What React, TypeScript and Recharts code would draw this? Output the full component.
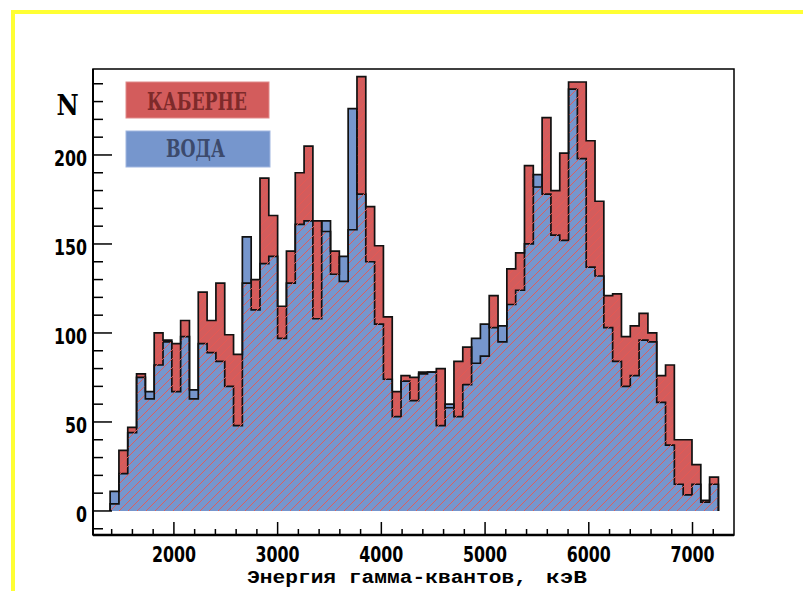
import React from 'react';
import { ComposedChart, Area, XAxis, YAxis, ReferenceArea } from 'recharts';

// Histogram binning (keV)
const BIN_START = 1385;
const BIN_WIDTH = 85;

// Counts per bin
const CABERNET = [
  4, 34, 47, 77, 63, 100, 96, 94, 107, 63,
  123, 107, 128, 99, 88, 128, 130, 187, 166, 115,
  146, 190, 205, 163, 157, 146, 129, 158, 244, 171,
  149, 109, 67, 76, 75, 77, 78, 80, 58, 84,
  92, 83, 87, 121, 95, 136, 145, 194, 182, 221,
  180, 201, 241, 241, 208, 174, 121, 122, 98, 104,
  111, 100, 76, 82, 40, 40, 26, 6, 19,
];
const WATER = [
  11, 21, 44, 75, 67, 82, 95, 67, 98, 68,
  94, 89, 84, 70, 48, 154, 113, 139, 143, 97,
  128, 161, 163, 108, 163, 133, 143, 226, 178, 140,
  105, 74, 53, 73, 62, 78, 78, 48, 60, 53,
  71, 97, 105, 103, 104, 116, 124, 150, 189, 178,
  155, 152, 237, 198, 137, 132, 103, 84, 70, 76,
  96, 95, 61, 37, 15, 9, 15, 5, 15,
];

const X_TICKS = [
  1400, 1600, 1800, 2000, 2200, 2400, 2600, 2800, 3000, 3200,
  3400, 3600, 3800, 4000, 4200, 4400, 4600, 4800, 5000, 5200,
  5400, 5600, 5800, 6000, 6200, 6400, 6600, 6800, 7000, 7200,
];
const X_LABELS = [2000, 3000, 4000, 5000, 6000, 7000];
const Y_TICKS = [
  -10, 0, 10, 20, 30, 40, 50, 60, 70, 80, 90, 100, 110, 120,
  130, 140, 150, 160, 170, 180, 190, 200, 210, 220, 230, 240,
];
const Y_LABELS = [0, 50, 100, 150, 200];
const X_DOMAIN: [number, number] = [1220, 7400];
const Y_DOMAIN: [number, number] = [-13.5, 248.3];

const LEGEND_RED = 'КАБЕРНЕ';
const LEGEND_BLUE = 'ВОДА';
const X_TITLE_1 = 'Энергия гамма-квантов,';
const X_TITLE_2 = 'кэВ';
const Y_TITLE = 'N';

const RED = '#d35c5c';
const BLUE = '#7696cd';
const HATCH = '#e65852';

type Row = { e: number; red: number; blue: number };
const buildData = (): Row[] => {
  const n = CABERNET.length;
  const rows: Row[] = [{ e: BIN_START, red: 0, blue: 0 }];
  for (let i = 0; i < n; i++) {
    rows.push({ e: BIN_START + i * BIN_WIDTH, red: CABERNET[i], blue: WATER[i] });
  }
  rows.push({ e: BIN_START + n * BIN_WIDTH, red: CABERNET[n - 1], blue: WATER[n - 1] });
  rows.push({ e: BIN_START + n * BIN_WIDTH, red: 0, blue: 0 });
  return rows;
};
const data = buildData();

const NUM_FONT = '"Liberation Sans Narrow", "DejaVu Sans Condensed", sans-serif';

const XTick = (props: any) => {
  const { x, y, payload } = props;
  const v = payload.value;
  const major = X_LABELS.includes(v);
  const len = major ? 13 : 6;
  const s = String(v);
  return (
    <g>
      <line x1={x} x2={x} y1={y} y2={y - len} stroke="#000" strokeWidth={1.5} />
      {major && (
        <text
          x={x}
          y={y + 27}
          textAnchor="middle"
          fontFamily={NUM_FONT}
          fontWeight="bold"
          fontSize={21}
          textLength={11 * s.length}
          lengthAdjust="spacingAndGlyphs"
          fill="#000"
        >
          {s}
        </text>
      )}
    </g>
  );
};

const YTick = (props: any) => {
  const { x, y, payload } = props;
  const v = payload.value;
  const major = v % 50 === 0;
  const len = major ? 19 : 10;
  const labeled = Y_LABELS.includes(v);
  const s = String(v);
  return (
    <g>
      <line x1={x} x2={x + len} y1={y} y2={y} stroke="#000" strokeWidth={1.5} />
      {labeled && (
        <text
          x={x - 6}
          y={y + 11}
          textAnchor="end"
          fontFamily={NUM_FONT}
          fontWeight="bold"
          fontSize={22}
          textLength={11 * s.length}
          lengthAdjust="spacingAndGlyphs"
          fill="#000"
        >
          {s}
        </text>
      )}
    </g>
  );
};

export default function App() {
  return (
    <div style={{ position: 'absolute', left: 0, top: 0, width: 803, height: 591, background: '#fff' }}>
      <ComposedChart
        width={803}
        height={591}
        data={data}
        margin={{ top: 69, right: 69, bottom: 26, left: 33 }}
      >
        <defs>
          <pattern id="hatch" patternUnits="userSpaceOnUse" width="9" height="9">
            <path d="M0,9 L9,0 M-2,2 L2,-2 M7,11 L11,7" stroke={HATCH} strokeWidth={0.9} />
          </pattern>
        </defs>
        <XAxis
          type="number"
          dataKey="e"
          domain={X_DOMAIN}
          allowDataOverflow
          ticks={X_TICKS}
          interval={0}
          tickSize={0}
          tickMargin={0}
          tickLine={false}
          tick={<XTick />}
          axisLine={{ stroke: '#000', strokeWidth: 2.5 }}
          height={30}
        />
        <YAxis
          type="number"
          domain={Y_DOMAIN}
          allowDataOverflow
          ticks={Y_TICKS}
          interval={0}
          tickSize={0}
          tickMargin={0}
          tickLine={false}
          tick={<YTick />}
          axisLine={{ stroke: '#000', strokeWidth: 2 }}
          width={60}
        />
        <Area
          type="stepAfter"
          dataKey="red"
          baseValue={0}
          fill={RED}
          fillOpacity={1}
          stroke="none"
          dot={false}
          activeDot={false}
          isAnimationActive={false}
        />
        <Area
          type="stepAfter"
          dataKey="blue"
          baseValue={0}
          fill={BLUE}
          fillOpacity={1}
          stroke="#111"
          strokeWidth={1.7}
          dot={false}
          activeDot={false}
          isAnimationActive={false}
        />
        <Area
          type="stepAfter"
          dataKey="red"
          baseValue={0}
          fill="url(#hatch)"
          fillOpacity={1}
          stroke="#111"
          strokeWidth={1.7}
          dot={false}
          activeDot={false}
          isAnimationActive={false}
        />
        <ReferenceArea
          x1={X_DOMAIN[0]}
          x2={X_DOMAIN[1]}
          y1={Y_DOMAIN[0]}
          y2={Y_DOMAIN[1]}
          fill="none"
          fillOpacity={0}
          stroke="#000"
          strokeWidth={1.5}
          ifOverflow="extendDomain"
        />
      </ComposedChart>
      <svg
        width={803}
        height={591}
        style={{ position: 'absolute', left: 0, top: 0, pointerEvents: 'none' }}
      >
        <rect x={11} y={10} width={792} height={4} fill="#ffff33" />
        <rect x={11} y={10} width={4} height={581} fill="#ffff33" />
        <text
          x={67.5}
          y={115}
          textAnchor="middle"
          fontFamily='"DejaVu Serif Condensed", "DejaVu Serif", serif'
          fontWeight="bold"
          fontSize={27}
          fill="#000"
        >
          {Y_TITLE}
        </text>
        <rect x={126} y={82} width={143} height={36} fill={RED} stroke="#e08a8a" strokeWidth={1} />
        <text
          x={147}
          y={109.5}
          fontFamily='"DejaVu Serif Condensed", "DejaVu Serif", serif'
          fontWeight="bold"
          fontSize={25}
          textLength={100}
          lengthAdjust="spacingAndGlyphs"
          fill="#7d2a2a"
        >
          {LEGEND_RED}
        </text>
        <rect x={126} y={131} width={144} height={36} fill={BLUE} stroke="#a0b6e0" strokeWidth={1} />
        <text
          x={166}
          y={156.5}
          fontFamily='"DejaVu Serif Condensed", "DejaVu Serif", serif'
          fontWeight="bold"
          fontSize={24}
          textLength={59}
          lengthAdjust="spacingAndGlyphs"
          fill="#3c4a6c"
        >
          {LEGEND_BLUE}
        </text>
        <text
          x={247}
          y={583}
          fontFamily='"Liberation Mono", "DejaVu Sans Mono", monospace'
          fontWeight="bold"
          fontSize={19}
          textLength={280}
          lengthAdjust="spacingAndGlyphs"
          fill="#000"
        >
          {X_TITLE_1}
        </text>
        <text
          x={546}
          y={583}
          fontFamily='"Liberation Mono", "DejaVu Sans Mono", monospace'
          fontWeight="bold"
          fontSize={19}
          textLength={41}
          lengthAdjust="spacingAndGlyphs"
          fill="#000"
        >
          {X_TITLE_2}
        </text>
      </svg>
    </div>
  );
}
